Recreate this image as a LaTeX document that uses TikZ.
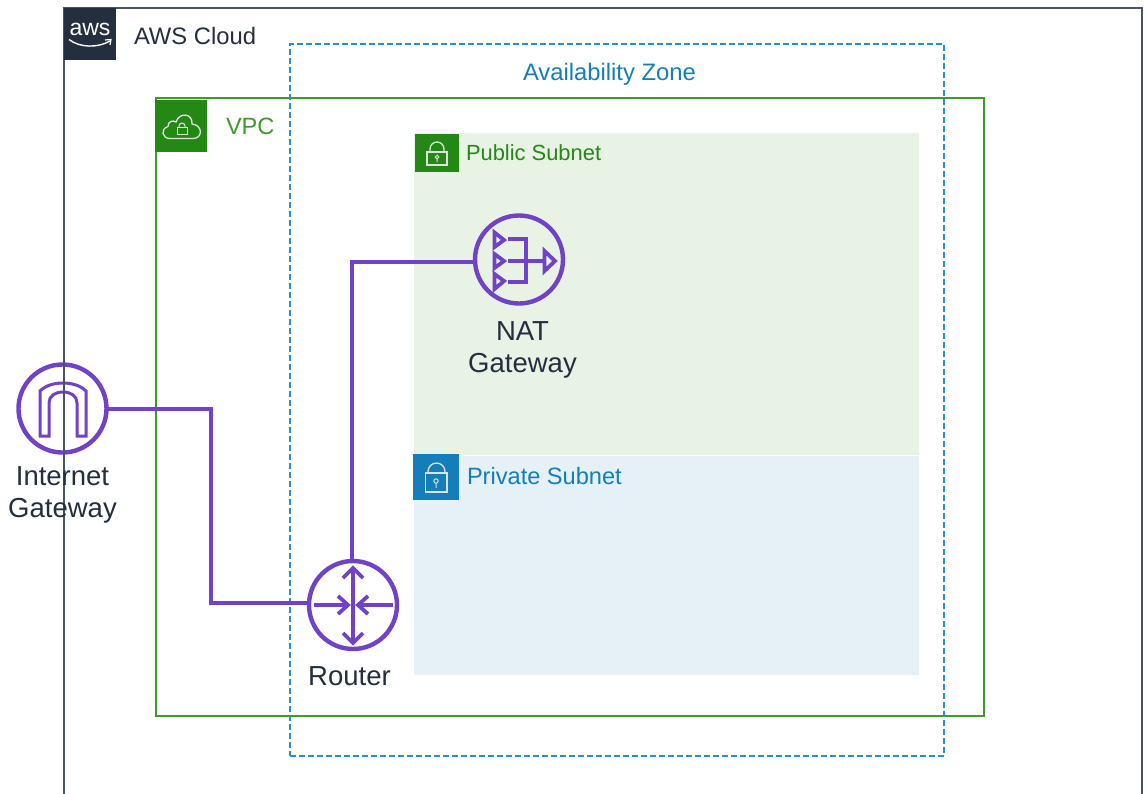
\documentclass[tikz,border=0pt]{standalone}
\usepackage{fontspec}
\setmainfont{Liberation Sans}
\definecolor{awsdark}{HTML}{232F3E}
\definecolor{cloudline}{HTML}{4A5462}
\definecolor{vpcgreen}{HTML}{3F9A2A}
\definecolor{tagreen}{HTML}{248814}
\definecolor{azblue}{HTML}{147EBA}
\definecolor{azdash}{HTML}{2A90CC}
\definecolor{pubfill}{HTML}{E8F2E5}
\definecolor{privfill}{HTML}{E5F0F7}
\definecolor{iconpurple}{HTML}{6F42C8}
\newcommand{\fs}[1]{\fontsize{#1}{#1}\selectfont}
\tikzset{
  box/.style={anchor=north west,inner sep=0pt,outer sep=0pt},
  label/.style={inner sep=0pt,outer sep=0pt,anchor=base west},
  iconring/.style={circle,draw=iconpurple,line width=4.4pt,minimum size=88pt,inner sep=0pt,outer sep=1.5pt},
  conn/.style={draw=iconpurple,line width=4pt},
  glyph/.style={draw=iconpurple,line width=3.8pt,line join=miter},
  tagicon/.style={draw=white!88!black,line width=1.3pt},
  caption/.style={inner sep=0pt,outer sep=0pt,text=awsdark,align=center,font=\fs{27.5}}
}
\begin{document}
\begin{tikzpicture}[x=1pt,y=-1pt]
\useasboundingbox (0,0) rectangle (1147,793);
\fill[white] (0,0) rectangle (1147,793);
% subnets
\node[box,fill=pubfill,minimum width=505pt,minimum height=322pt] (pub) at (414,133) {};
\node[box,fill=privfill,minimum width=505pt,minimum height=219pt] (priv) at (414,456) {};
% VPC and availability zone
\node[box,draw=vpcgreen,line width=2pt,minimum width=828pt,minimum height=618pt] (vpc) at (155.5,98) {};
\node[box,draw=azdash,line width=2pt,dash pattern=on 6pt off 3pt,minimum width=654pt,minimum height=712pt] (az) at (289.5,44) {};
% tags
\node[box,fill=tagreen,minimum width=52pt,minimum height=52pt] (vpctag) at (155,100) {};
\node[box,fill=tagreen,minimum width=44pt,minimum height=38pt] (pubtag) at (415,134) {};
\node[box,fill=azblue,minimum width=46pt,minimum height=46pt] (privtag) at (413,454) {};
% tag glyphs
\draw[tagicon] (427,152) rectangle (447,165);
\draw[tagicon] (430,152) -- (430,149) arc[start angle=180,end angle=360,radius=7] -- (444,152);
\draw[tagicon,line width=1pt] (437,157) circle (1.8) (437,159) -- (437,162);
\draw[tagicon] (425.5,473) rectangle (447,492);
\draw[tagicon] (428,473) -- (428,471.5) arc[start angle=180,end angle=360,radius=8.5] -- (445,473);
\draw[tagicon,line width=1pt] (436,481) circle (2.2) (436,483) -- (436,488);
\draw[tagicon] (170,138.5) .. controls (162,138.5) and (160,129) .. (168,126.5) .. controls (168,121) and (173,120) .. (176,122) .. controls (179,112) and (193,113) .. (192,124) .. controls (203,125) and (203,138.5) .. (193,138.5) -- cycle;
\draw[tagicon,line width=1pt] (177,127) rectangle (187,134);
\draw[tagicon,line width=1pt] (179,127) -- (179,126) arc[start angle=180,end angle=360,radius=3] -- (185,127);
% icons
\node[iconring] (igw) at (62.5,408.5) {};
\node[iconring] (router) at (353,605) {};
\node[iconring] (nat) at (519,259.5) {};
% gateway glyph
\draw[iconpurple,line width=3pt,line join=miter] (40,436) -- (40,391) .. controls (46,385) and (55,383) .. (63,383) .. controls (71,383) and (80,385) .. (86,391) -- (86,436) -- (77,436) -- (77,403) .. controls (77,396) and (71,392) .. (63,392) .. controls (55,392) and (49,396) .. (49,403) -- (49,436) -- cycle;
% router glyph
\draw[glyph] (353,570) -- (353,642);
\draw[glyph] (343,578) -- (353,568) -- (363,578);
\draw[glyph] (343,633) -- (353,643) -- (363,633);
\draw[glyph] (314,605) -- (347,605);
\draw[glyph] (338,596) -- (348,605) -- (338,614);
\draw[glyph] (393,605) -- (360,605);
\draw[glyph] (368,596) -- (358,605) -- (368,614);
% NAT glyph
\draw[glyph] (494.5,232.5) -- (504,240) -- (494.5,247) -- cycle;
\draw[glyph] (494.5,254) -- (504,261) -- (494.5,268) -- cycle;
\draw[glyph] (494.5,274) -- (504,281) -- (494.5,289) -- cycle;
\draw[glyph] (508,239) -- (526,239) -- (526,282) -- (508,282);
\draw[glyph] (508,261) -- (544,261);
\draw[glyph] (544.5,251) -- (555,261) -- (544.5,271) -- cycle;
% connectors
\coordinate (elbow) at (211,602.5);
\draw[conn] (igw.east) -| (elbow) -- ([yshift=2.5pt]router.west);
\draw[conn] ([xshift=-1pt]router.north) |- ([yshift=-2.5pt]nat.west);
% AWS Cloud frame on top
\begin{scope}
\clip (0,0) rectangle (1147,793);
\node[box,draw=cloudline,line width=2pt,minimum width=1078pt,minimum height=800pt] (cloud) at (64,8) {};
\end{scope}
\node[box,fill=awsdark,minimum width=52pt,minimum height=52pt] (awstag) at (64,7.5) {};
\node[label,text=white,font=\fs{23}] (awslogo) at (69.5,35.5) {aws};
\draw[white,line width=1.4pt] (69,39.5) .. controls (80,48) and (98,48) .. (110,41);
\draw[white,line width=1.2pt] (105,40) -- (111,39.5) -- (110,45);
% labels
\node[label,text=awsdark,font=\fs{23.8}] (cloudlabel) at (134,44) {AWS Cloud};
\node[label,text=azblue,font=\fs{23.8}] (azlabel) at (523,80.5) {Availability Zone};
\node[label,text=vpcgreen,font=\fs{23.6}] (vpclabel) at (226,134.5) {VPC};
\node[label,text=tagreen,font=\fs{21.9}] (publabel) at (466,160.5) {Public Subnet};
\node[label,text=azblue,font=\fs{23.6}] (privlabel) at (467,484.5) {Private Subnet};
\node[caption] (natlabel) at (522.5,350) {\fs{27.5}NAT\\[4pt]\fs{27.5}Gateway};
\node[caption] (igwlabel) at (62.5,495) {\fs{27.5}Internet\\[4pt]\fs{27.5}Gateway};
\node[caption] (routerlabel) at (349.5,676) {Router};
\end{tikzpicture}
\end{document}
